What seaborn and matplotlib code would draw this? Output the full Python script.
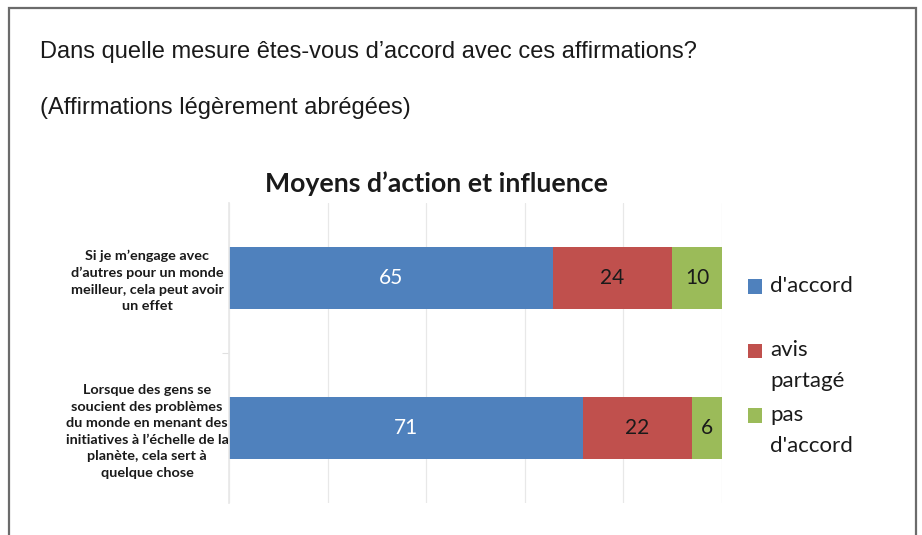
import pandas as pd
import seaborn as sns
import matplotlib.pyplot as plt
from matplotlib.patches import Patch, Rectangle
from matplotlib.legend_handler import HandlerPatch

## Data
statements = ["Si je m’engage avec\nd’autres pour un monde\nmeilleur, cela peut avoir\nun effet",
              "Lorsque des gens se\nsoucient des problèmes\ndu monde en menant des\ninitiatives à l’échelle de la\nplanète, cela sert à\nquelque chose"]
agree = [65, 71]
mixed = [24, 22]
disagree = [10, 6]
series_cols = ["agree", "mixed", "disagree"]
series_names = ["d'accord\n", "avis\npartagé", "pas\nd'accord"]
colors = ["#4F81BD", "#C0504D", "#9BBB59"]

df = pd.DataFrame({"statement": statements, "agree": agree,
                   "mixed": mixed, "disagree": disagree})

# 100% stacked bars: every row is scaled to its own total
share = df[series_cols].div(df[series_cols].sum(axis=1), axis=0) * 100
cum = share.cumsum(axis=1)

sns.set_theme(style="white")
plt.rcParams['font.family'] = ['Lato', 'DejaVu Sans']

fig = plt.figure(figsize=(9.22, 5.35), dpi=100)
ax = fig.add_axes([0.2484, 0.0598, 0.5347, 0.5607])

# draw the cumulative bars longest first so the shorter ones sit on top
for col, color in zip(reversed(series_cols), reversed(colors)):
    sns.barplot(x=cum[col], y=df["statement"], orient="h", color=color,
                saturation=1, width=0.41, linewidth=0, ax=ax)

# value labels in the middle of each segment
for i in range(len(df)):
    for col in series_cols:
        left = cum.loc[i, col] - share.loc[i, col]
        ax.text(left + share.loc[i, col] / 2, i, str(df.loc[i, col]),
                ha="center", va="center", fontsize=15,
                color="white" if col == "agree" else "#1a1a1a")

ax.set_xlim(0, 100)
ax.set_ylim(1.5, -0.5)
ax.set_xticks(range(0, 101, 20))
ax.xaxis.grid(True, color="#e8e8e8", lw=0.9)
ax.set_axisbelow(True)
ax.tick_params(axis="x", length=0, labelbottom=False)
ax.set_xlabel("")
ax.set_ylabel("")
for s in ["top", "right", "bottom"]:
    ax.spines[s].set_visible(False)
ax.spines["left"].set_color("#e8e8e8")

ax.set_yticks([0.5], minor=True)
ax.tick_params(axis="y", which="minor", left=True, length=5, width=0.8, color="#e0e0e0")
ax.tick_params(axis="y", which="major", length=0, pad=59)
for lbl in ax.get_yticklabels():
    lbl.set_ha("center")
    lbl.set_fontsize(10.4)
    lbl.set_fontweight("bold")
    lbl.set_color("#1a1a1a")
    lbl.set_linespacing(1.45)


# legend texts are centred on the handle; move the handle up to the first line
class FirstLineHandler(HandlerPatch):
    def __init__(self, lift):
        super().__init__()
        self.lift = lift

    def create_artists(self, legend, orig_handle, xdescent, ydescent,
                       width, height, fontsize, trans):
        return super().create_artists(legend, orig_handle, xdescent,
                                      ydescent - self.lift, width, height,
                                      fontsize, trans)


handles = [Patch(facecolor=c, edgecolor="none") for c in colors]
leg = fig.legend(handles, series_names, loc="upper left",
                 bbox_to_anchor=(748 / 922, 1 - 276 / 535),
                 frameon=False, borderpad=0, borderaxespad=0,
                 fontsize=16, handlelength=0.64, handleheight=0.64,
                 handletextpad=0.36, labelspacing=0.62,
                 handler_map={Patch: FirstLineHandler(10.8)})
for t in leg.get_texts():
    t.set_linespacing(1.67)
    t.set_color("#1a1a1a")

## Slide text
fig.text(40 / 922, 1 - 52 / 535, "Dans quelle mesure êtes-vous d’accord avec ces affirmations?",
         family="Liberation Sans", fontsize=17, ha="left", va="center", color="#1a1a1a")
fig.text(40 / 922, 1 - 108 / 535, "(Affirmations légèrement abrégées)",
         family="Liberation Sans", fontsize=17, ha="left", va="center", color="#1a1a1a")
fig.text(436 / 922, 1 - 184 / 535, "Moyens d’action et influence",
         fontsize=19.2, fontweight="bold", ha="center", va="center", color="#1a1a1a")

# slide border, open at the bottom edge of the picture
fig.patches.append(Rectangle((9 / 922, -0.1), 907 / 922, 1 - 8 / 535 + 0.1,
                             transform=fig.transFigure, fill=False,
                             ec="#6b6b6b", lw=1.6))

fig.savefig("out.png", dpi=100)
